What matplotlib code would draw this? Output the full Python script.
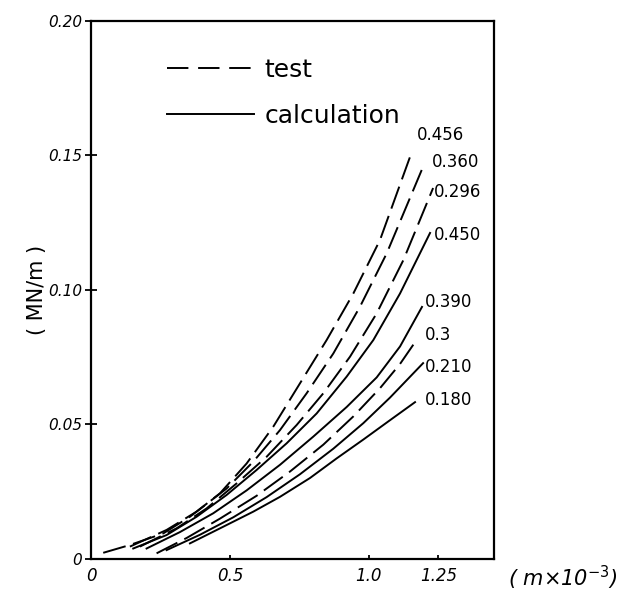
import matplotlib
matplotlib.use('Agg')
import matplotlib.pyplot as plt
from matplotlib.lines import Line2D

plt.rcParams['font.family'] = ['DejaVu Sans']

# 试验曲线（虚线）
test_labels = ['0.456', '0.360', '0.296', '0.3']
test_x = [
    [0.044, 0.140, 0.260, 0.356, 0.464, 0.560, 0.656, 0.752, 0.848, 0.944, 1.040, 1.148],
    [0.140, 0.272, 0.380, 0.488, 0.584, 0.680, 0.776, 0.872, 0.968, 1.064, 1.190],
    [0.176, 0.308, 0.416, 0.524, 0.632, 0.740, 0.836, 0.932, 1.028, 1.124, 1.231],
    [0.236, 0.344, 0.464, 0.596, 0.716, 0.836, 0.944, 1.040, 1.112, 1.166],
]
test_y = [
    [0.0023, 0.0052, 0.0095, 0.0157, 0.0244, 0.0355, 0.0492, 0.0653, 0.0814, 0.0987, 0.1186, 0.1495],
    [0.0046, 0.0108, 0.0176, 0.0262, 0.0362, 0.0479, 0.0616, 0.0764, 0.0938, 0.1136, 0.1446],
    [0.0046, 0.0114, 0.0188, 0.0281, 0.0380, 0.0498, 0.0616, 0.0752, 0.0913, 0.1111, 0.1379],
    [0.0021, 0.0078, 0.0150, 0.0235, 0.0325, 0.0425, 0.0530, 0.0635, 0.0725, 0.0806],
]

# 计算曲线（实线）
calc_labels = ['0.450', '0.390', '0.210', '0.180']
calc_x = [
    [0.152, 0.272, 0.380, 0.488, 0.596, 0.704, 0.812, 0.920, 1.016, 1.112, 1.220],
    [0.200, 0.320, 0.440, 0.560, 0.680, 0.800, 0.920, 1.028, 1.112, 1.191],
    [0.272, 0.392, 0.512, 0.632, 0.752, 0.872, 0.980, 1.076, 1.195],
    [0.356, 0.476, 0.584, 0.680, 0.788, 0.884, 0.980, 1.076, 1.166],
]
calc_y = [
    [0.0039, 0.0089, 0.0157, 0.0238, 0.0331, 0.0430, 0.0541, 0.0678, 0.0814, 0.0987, 0.1212],
    [0.0039, 0.0100, 0.0170, 0.0255, 0.0350, 0.0455, 0.0565, 0.0675, 0.0790, 0.0937],
    [0.0033, 0.0090, 0.0155, 0.0230, 0.0315, 0.0410, 0.0505, 0.0600, 0.0728],
    [0.0058, 0.0120, 0.0176, 0.0231, 0.0301, 0.0374, 0.0444, 0.0516, 0.0583],
]

x_ticks = [0, 0.5, 1.0, 1.25]
x_tick_labels = ['0', '0.5', '1.0', '1.25']
y_ticks = [0, 0.05, 0.10, 0.15, 0.20]
y_tick_labels = ['0', '0.05', '0.10', '0.15', '0.20']

# 曲线标注位置（数据坐标）
test_label_pos = [(1.173, 0.1576), (1.227, 0.1476), (1.234, 0.1364), (1.201, 0.0833)]
calc_label_pos = [(1.234, 0.1204), (1.201, 0.0955), (1.201, 0.0714), (1.201, 0.0591)]

fig = plt.figure(figsize=(6.35, 5.99), dpi=100)
ax = fig.add_axes([0.1433, 0.0668, 0.6346, 0.8982])

dash_style = (0, (12, 4))
for xs, ys in zip(test_x, test_y):
    ax.plot(xs, ys, color='black', lw=1.4, linestyle=dash_style)
for xs, ys in zip(calc_x, calc_y):
    ax.plot(xs, ys, color='black', lw=1.4)

for text, (lx, ly) in zip(test_labels, test_label_pos):
    ax.text(lx, ly, text, fontsize=12, ha='left', va='center')
for text, (lx, ly) in zip(calc_labels, calc_label_pos):
    ax.text(lx, ly, text, fontsize=12, ha='left', va='center')

ax.set_xlim(0, 1.45)
ax.set_ylim(0, 0.20)
ax.set_xticks(x_ticks)
ax.set_xticklabels(x_tick_labels, fontsize=12, style='italic')
ax.set_yticks(y_ticks)
ax.set_yticklabels(y_tick_labels, fontsize=11, style='italic')
ax.tick_params(axis='y', direction='inout', length=9, width=1.3, pad=2)
ax.tick_params(axis='x', direction='in', length=3, width=1.3, pad=6)
for sp in ax.spines.values():
    sp.set_linewidth(1.6)

# 图例
handles = [
    Line2D([], [], color='black', lw=1.4, linestyle=(0, (11, 5))),
    Line2D([], [], color='black', lw=1.4),
]
ax.legend(handles, ['test', 'calculation'], loc='upper left',
          bbox_to_anchor=(0.157, 0.955), frameon=False, fontsize=18,
          handlelength=3.5, handletextpad=0.4, labelspacing=0.9, borderpad=0)

ax.set_ylabel('( MN/m )', fontsize=15)
ax.yaxis.set_label_coords(-0.11, 0.5)
fig.text(0.80, 0.035, '( m×10$^{-3}$)', fontsize=15, style='italic', va='center')

fig.savefig('out.png', dpi=100)
